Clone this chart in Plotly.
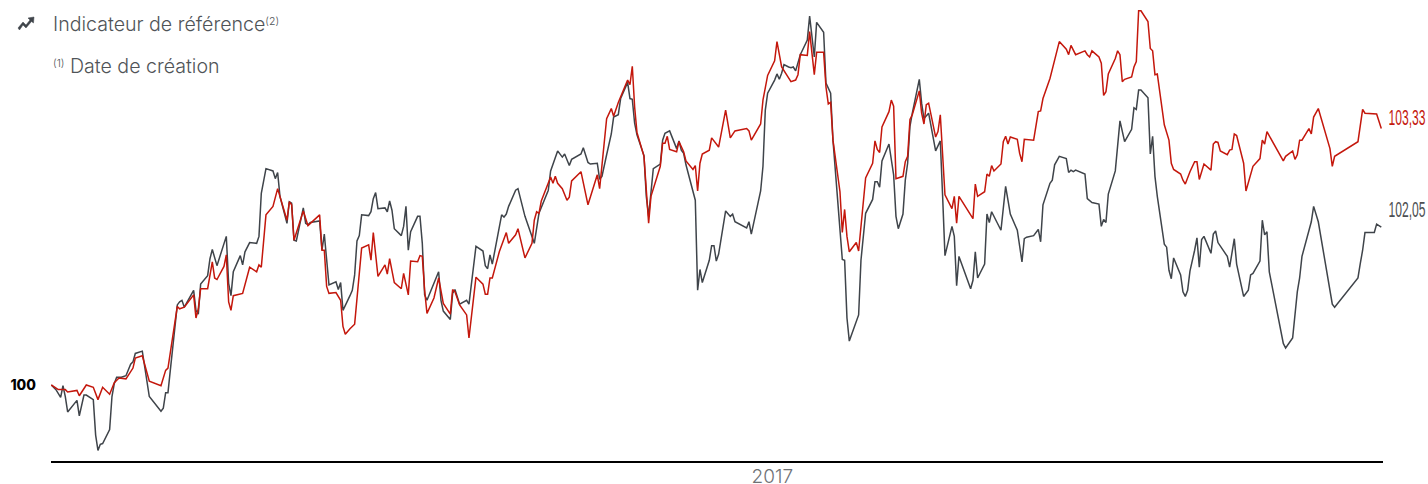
import plotly.graph_objects as go

# Séance (index de bourse) et valeur base 100
reference_sessions = [0,2,4,5,6,7,11,12,14,15,18,19,20,21,22,25,26,27,28,30,32,34,35,36,39,40,42,47,48,49,50,51,52,54,55,56,57,61,62,63,64,67,68,69,71,75,76,77,78,81,82,83,85,88,89,90,92,95,96,97,98,101,102,103,104,105,108,109,110,111,115,116,117,119,122,123,124,125,
128,129,130,131,132,133,136,137,138,139,140,143,144,145,146,147,150,151,152,153,154,157,158,159,160,161,166,167,168,171,172,173,175,178,179,182,185,186,187,188,189,193,194,195,196,199,200,203,207,209,213,214,217,219,220,222,223,227,228,230,231,234,235,236,238,240,241,243,244,247,248,249,250,251,254,255,256,258,261,262,263,265,268,269,270,271,272,275,276,277,
278,279,282,283,284,285,286,289,290,291,292,293,298,299,300,304,305,306,307,310,311,312,313,314,316,317,318,319,321,324,325,327,328,331,332,334,335,338,339,340,341,342,346,347,349,352,353,354,355,356,359,361,362,363,365,366,367,368,369,372,373,374,376,379,381,382,383,386,387,388,389,394,395,396,397,400,401,402,403,407,409,410,411,414,416,417,418,421,423,424,425,
428,429,430,432,435,436,437,438,439,443,444,446,449,450,451,452,453,456,458,460,463,464,465,466,467,470,471,472,473,474,477,478,479,480,481,484,485,486,487,488,490,491,492,493,494,497,498,499,500,504,505,507,508,511,513,514,515,518,519,520,521,522,528,529,532,533,534,535,536,540,541,543,549,550,560,561,562,563,567,568,570]
reference_values = [100.00,99.94,99.84,99.99,99.85,99.65,99.80,99.60,99.87,99.87,99.81,99.35,99.15,99.23,99.24,99.42,99.85,100.02,100.10,100.10,100.12,100.27,100.30,100.41,100.44,100.22,99.85,99.66,99.70,99.90,99.90,100.19,100.50,101.04,101.08,101.10,101.01,101.23,100.97,100.92,101.31,101.42,101.64,101.76,101.55,101.93,101.32,101.16,101.47,101.68,101.56,101.73,101.85,101.84,101.93,102.49,102.81,102.78,102.68,102.76,102.45,102.10,102.38,102.36,101.88,101.87,102.30,102.10,102.08,102.11,102.13,101.75,101.96,101.30,101.34,101.24,101.33,100.97,
101.16,101.23,101.43,101.87,101.94,102.21,102.20,102.25,102.42,102.50,102.29,102.30,102.25,102.39,102.27,102.03,101.94,102.06,102.32,101.75,101.99,102.19,102.19,101.84,101.17,101.10,101.47,101.10,100.96,100.85,101.19,101.24,101.05,101.10,101.05,101.80,101.74,101.55,101.51,101.69,101.57,102.21,102.18,102.22,102.32,102.53,102.55,102.19,101.84,102.23,102.53,102.78,103.04,102.96,103.00,102.85,102.93,103.00,103.08,102.89,102.87,102.88,102.67,102.71,102.99,103.26,103.48,103.51,103.72,103.93,103.72,103.71,103.40,103.25,102.98,102.45,102.19,102.81,102.87,103.18,103.27,103.30,103.07,103.17,103.05,103.01,102.86,102.53,102.40,101.23,
101.50,101.33,101.62,101.81,101.81,101.61,101.70,102.26,102.22,102.19,102.22,102.12,102.04,102.12,101.96,102.52,102.84,103.57,103.79,103.96,104.04,103.97,104.05,104.16,104.13,104.12,104.13,104.08,104.29,104.48,104.79,104.26,104.71,104.58,103.92,103.79,103.18,102.06,101.63,101.62,100.87,100.57,100.91,101.62,102.23,102.41,102.64,102.64,102.57,102.91,103.13,102.73,102.19,102.03,102.22,102.66,102.88,103.36,103.53,103.97,103.66,103.46,103.53,103.04,103.17,102.45,101.68,102.06,101.93,101.29,101.67,101.25,101.36,101.73,101.39,101.57,102.22,102.11,102.25,102.01,102.58,102.40,102.22,102.01,101.60,101.90,101.92,101.94,102.02,101.86,102.34,
102.62,102.66,102.86,102.97,102.94,102.76,102.79,102.77,102.79,102.74,102.42,102.37,102.35,102.06,102.15,102.11,102.48,102.78,103.43,103.16,103.32,103.60,103.58,103.83,103.83,103.73,103.00,103.23,102.71,102.45,101.83,101.79,101.49,101.38,101.65,101.43,101.21,101.15,101.23,101.48,101.75,101.91,101.53,101.89,101.93,101.71,101.96,102.00,101.85,101.67,101.53,101.90,101.57,101.15,101.23,101.43,101.45,101.61,102.14,101.95,101.99,101.47,100.54,100.48,100.61,100.93,101.21,101.39,101.67,102.12,102.32,102.12,101.05,101.01,101.39,101.58,101.75,101.98,101.98,102.09,102.05]

fund_sessions = [0,3,6,7,11,12,15,18,20,22,25,27,29,32,35,36,39,42,47,49,50,54,55,57,61,62,63,64,67,69,70,71,74,75,76,77,78,82,85,88,89,90,92,95,97,98,101,102,103,104,108,110,115,116,117,118,119,122,124,125,126,
128,130,133,136,137,138,140,143,144,145,147,150,151,153,154,157,158,159,160,161,164,166,168,171,172,173,175,178,179,182,185,186,187,188,189,192,195,196,199,200,203,206,207,208,209,210,214,215,216,217,219,221,222,223,227,230,234,235,238,240,241,243,247,248,249,250,251,254,256,257,261,262,263,264,265,268,269,271,272,275,276,277,
278,279,282,283,286,289,291,293,298,299,300,304,305,307,310,311,313,317,319,320,321,324,325,326,327,328,331,332,333,334,335,338,339,340,341,342,345,346,349,352,353,354,355,356,359,360,361,362,365,366,367,368,369,372,373,374,375,376,379,380,381,383,386,387,388,389,395,396,397,400,401,402,403,404,407,408,409,410,411,414,415,416,417,421,423,424,425,
428,430,432,435,436,437,439,443,444,445,446,449,450,451,452,453,456,457,458,459,460,463,464,465,466,467,470,471,472,473,474,477,479,480,481,484,485,486,488,490,491,492,494,497,498,499,500,501,504,505,506,507,508,511,512,515,518,519,520,521,528,529,532,533,534,535,536,539,540,541,543,548,549,550,560,562,563,568,570]
fund_values = [100.00,99.94,99.94,99.91,99.93,99.86,100.00,99.97,99.81,99.97,99.88,100.03,100.09,100.08,100.22,100.35,100.38,100.05,99.99,100.19,100.22,101.02,100.99,101.01,101.17,100.87,100.99,101.25,101.25,101.60,101.39,101.37,101.54,101.69,101.08,100.97,101.16,101.19,101.53,101.47,101.56,101.53,102.21,102.32,102.55,102.45,102.14,102.38,102.34,101.88,102.26,102.07,102.21,101.75,101.75,101.28,101.19,101.20,101.10,100.76,100.66,
100.73,100.79,101.78,101.82,101.62,101.98,101.41,101.56,101.44,101.64,101.33,101.25,101.45,101.17,101.61,101.60,101.68,101.67,101.23,100.93,101.13,101.39,101.06,100.92,101.24,101.21,101.04,100.91,100.61,101.40,101.31,101.18,101.18,101.39,101.39,101.73,101.98,101.84,101.95,102.03,101.65,101.84,102.14,102.25,102.23,102.39,102.70,102.62,102.71,102.62,102.55,102.40,102.44,102.65,102.77,102.34,102.73,102.55,103.46,103.59,103.49,103.67,103.96,103.90,104.14,103.61,103.28,102.97,102.10,102.45,102.84,103.14,103.14,103.23,103.06,103.03,103.16,103.03,102.91,102.80,102.85,102.52,
102.88,103.00,103.05,103.21,103.09,103.57,103.21,103.30,103.33,103.30,103.18,103.39,103.70,104.02,104.21,104.46,104.13,103.94,103.96,104.03,104.29,104.28,104.59,104.26,104.03,104.32,104.32,103.87,103.65,103.67,103.18,102.51,101.98,102.28,101.93,101.73,101.85,101.74,102.69,102.88,103.17,103.06,103.02,103.35,103.55,103.70,103.62,102.68,102.71,102.90,102.97,103.45,103.51,103.82,103.53,103.39,103.64,103.66,103.22,103.29,103.51,102.47,102.29,102.45,102.10,102.45,102.16,102.61,102.45,102.51,102.74,102.71,102.85,102.78,102.87,103.16,103.23,103.13,103.22,103.19,103.01,102.90,103.19,103.18,103.55,103.56,103.72,
103.98,104.22,104.46,104.36,104.29,104.41,104.29,104.34,104.29,104.26,104.34,104.26,104.18,103.76,103.81,104.04,104.24,104.34,104.29,103.94,103.97,104.00,104.13,104.20,104.86,104.86,104.72,104.37,104.34,104.03,104.04,103.38,103.18,102.88,102.80,102.74,102.66,102.61,102.77,102.90,102.90,102.67,102.87,102.79,103.13,103.16,103.15,103.04,102.99,103.05,103.06,103.26,103.24,102.88,102.52,102.84,102.94,103.18,103.13,103.29,102.91,102.97,103.04,102.93,102.99,103.18,103.18,103.33,103.26,103.48,103.59,103.07,102.84,102.97,103.16,103.58,103.53,103.52,103.33]

fund_last_label = "103,33"
reference_last_label = "102,05"
year_session = [309]
year_label = ["2017"]
base_tick = [100]
base_label = ["100"]

DARK = "#3f444a"
RED = "#c4170c"
W, H = 1428, 484
L, R, T, B = 51, 45, 0, 23


def px(x):
    return (x - L) / (W - L - R)


def py(y):
    return 1 - (y - T) / (H - T - B)


fig = go.Figure()
fig.add_trace(go.Scatter(x=reference_sessions, y=reference_values, mode="lines",
                         line=dict(color=DARK, width=1.5), hoverinfo="skip", showlegend=False))
fig.add_trace(go.Scatter(x=fund_sessions, y=fund_values, mode="lines",
                         line=dict(color=RED, width=1.5), hoverinfo="skip", showlegend=False))

fig.update_xaxes(range=[-0.13, 570.73], automargin=False, showgrid=False, zeroline=False, showline=True,
                 linecolor="#000000", linewidth=2, tickmode="array", tickvals=year_session,
                 ticktext=year_label, ticks="", ticklabelstandoff=-3,
                 tickfont=dict(family="Inter", size=19, color="#6f7276", weight=300))
fig.update_yaxes(range=[99.013, 105], automargin=False, showgrid=False, zeroline=False, showline=False,
                 tickmode="array", tickvals=base_tick, ticktext=base_label, ticks="",
                 ticklabelstandoff=14, tickfont=dict(family="Inter", size=14, color="#000000", weight=800))

icon = " ".join([
    f"M {px(18):.5f} {py(28):.5f}",
    f"L {px(23):.5f} {py(22):.5f}",
    f"L {px(26):.5f} {py(25):.5f}",
    f"L {px(30):.5f} {py(20):.5f}",
    f"L {px(28):.5f} {py(18):.5f}",
    f"L {px(34):.5f} {py(17):.5f}",
    f"L {px(33.5):.5f} {py(23):.5f}",
    f"L {px(31.5):.5f} {py(21.5):.5f}",
    f"L {px(26):.5f} {py(28):.5f}",
    f"L {px(23):.5f} {py(25):.5f}",
    f"L {px(19.5):.5f} {py(30):.5f} Z",
])
fig.add_shape(type="path", xref="paper", yref="paper", path=icon,
              fillcolor=DARK, line=dict(color=DARK, width=0.5))

TEXT = "#505458"
fig.add_annotation(xref="paper", yref="paper", x=px(53), y=py(24), xanchor="left", yanchor="middle",
                   text='Indicateur de référence<span style="font-size:15px"><sup>(2)</sup></span>', showarrow=False,
                   font=dict(family="Inter", size=19.6, color=TEXT, weight=300), borderpad=0, borderwidth=0)
fig.add_annotation(xref="paper", yref="paper", x=px(53), y=py(66), xanchor="left", yanchor="middle",
                   text='<span style="font-size:15px"><sup>(1)</sup></span> Date de création', showarrow=False,
                   font=dict(family="Inter", size=19.6, color=TEXT, weight=300), borderpad=0, borderwidth=0)
fig.add_annotation(xref="x", yref="y", x=fund_sessions[-1], y=fund_values[-1], xshift=7, yshift=11,
                   xanchor="left", yanchor="middle", text=fund_last_label, showarrow=False, width=37, align="left",
                   font=dict(family="Liberation Sans", size=22, color=RED), borderpad=0)
fig.add_annotation(xref="x", yref="y", x=reference_sessions[-1], y=reference_values[-1], xshift=7, yshift=18,
                   xanchor="left", yanchor="middle", text=reference_last_label, showarrow=False, width=37, align="left",
                   font=dict(family="Liberation Sans", size=22, color="#4a4d50"), borderpad=0)

fig.update_layout(width=W, height=H, autosize=False, margin=dict(l=L, r=R, t=T, b=B),
                  paper_bgcolor="#ffffff", plot_bgcolor="#ffffff")

# Condense the two end-of-line labels, since no narrow font is installed
squeeze = """
document.body.style.margin='0';document.body.style.overflow='hidden';
document.querySelectorAll('.annotation-text').forEach(function(t){
  if(t.textContent==='103,33'||t.textContent==='102,05'){
    t.setAttribute('textLength','37');t.setAttribute('lengthAdjust','spacingAndGlyphs');
    t.setAttribute('text-anchor','start');
    t.style.opacity='0.99';
    var b=t.parentNode.querySelector('rect');
    if(b){t.setAttribute('x',b.getAttribute('x')||'0');}
  }
});
"""
fig.write_html("out.html", config={"displayModeBar": False}, post_script=squeeze)
